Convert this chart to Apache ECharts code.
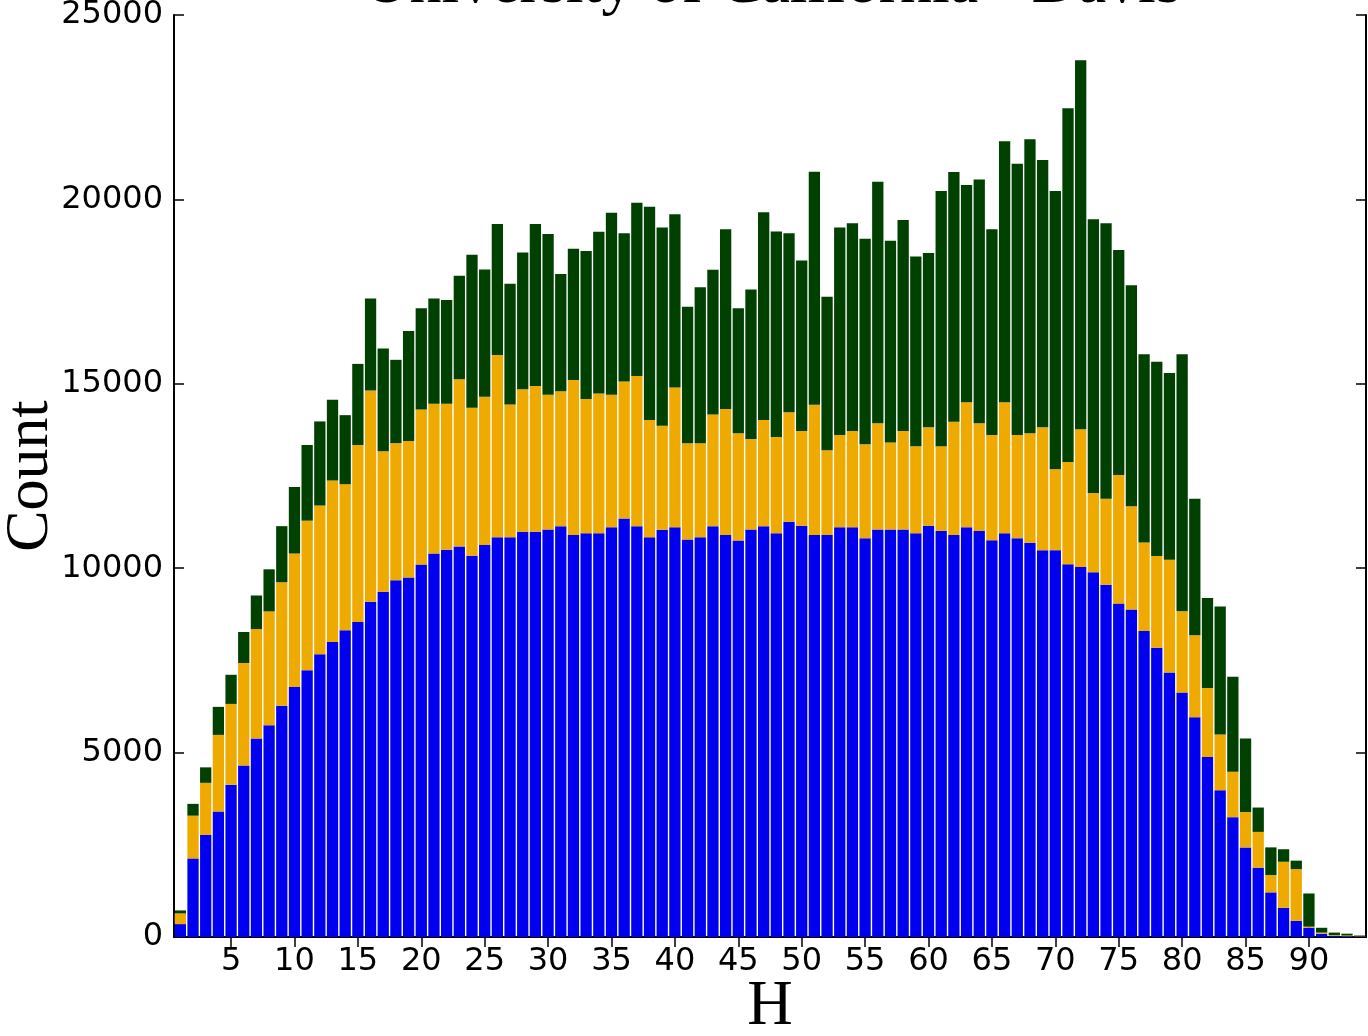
<!DOCTYPE html>
<html>
<head>
<meta charset="utf-8">
<script src="https://cdn.jsdelivr.net/npm/echarts@6/dist/echarts.min.js"></script>
<style>
html,body{margin:0;padding:0;background:#fff;}
#chart{width:1368px;height:1036px;}
</style>
</head>
<body>
<div id="chart"></div>
<script>
const titleText = 'University of California - Davis';
const xName = 'H';
const yName = 'Count';

const categories = [1,2,3,4,5,6,7,8,9,10,11,12,13,14,15,16,17,18,19,20,21,22,23,24,25,26,27,28,29,30,
  31,32,33,34,35,36,37,38,39,40,41,42,43,44,45,46,47,48,49,50,51,52,53,54,55,56,57,58,59,60,
  61,62,63,64,65,66,67,68,69,70,71,72,73,74,75,76,77,78,79,80,81,82,83,84,85,86,87,88,89,90,
  91,92,93,94];

const yTicks = [0, 5000, 10000, 15000, 20000, 25000];

// bottom segment (blue)
const blueValues = [350,2130,2770,3400,4130,4650,5380,5740,6270,6780,
  7230,7670,8000,8320,8540,9090,9360,9670,9750,10100,
  10400,10500,10590,10340,10630,10840,10840,10990,10990,11050,
  11140,10900,10950,10950,11110,11350,11140,10840,11040,11110,
  10780,10840,11140,10900,10750,11050,11140,10950,11260,11150,
  10900,10900,11110,11110,10810,11050,11050,11050,10950,11150,
  11010,10900,11110,11010,10760,10950,10810,10690,10490,10490,
  10110,10030,9890,9550,9040,8880,8300,7840,7170,6630,
  5960,4880,3980,3250,2430,1880,1210,790,440,250,
  90,30,20,10];

// middle segment (orange)
const orangeValues = [290,1160,1410,2080,2190,2780,2970,3090,3350,3620,
  4060,4030,4380,3960,4800,5730,3810,3720,3700,4200,
  4060,3960,4530,4010,4020,4940,3600,3860,3950,3650,
  3660,4200,3640,3790,3590,3710,4070,3180,2820,3790,
  2610,2550,3030,3420,2910,2450,2880,2610,2970,2570,
  3530,2300,2500,2610,2550,2880,2360,2670,2360,2670,
  2300,3070,3390,2920,2850,3550,2800,2970,3330,2190,
  2770,3740,2150,2330,3490,2800,2400,2490,3060,2200,
  2220,1870,1510,1230,960,970,470,1250,1400,30,
  30,20,20,10];

// top segment (dark green)
const greenValues = [80,320,420,760,790,840,910,1140,1520,1800,
  2050,2280,2190,1870,2200,2490,2790,2260,2980,2750,
  2850,2810,2810,4150,3450,3550,3270,3710,4390,4360,
  3180,3560,4010,4380,4940,4020,4700,5780,5380,4700,
  3700,4230,3920,4870,3390,4060,5630,5570,4850,4620,
  6320,4160,5630,5630,5570,6550,5470,5720,5140,4730,
  6920,6770,5890,6610,5580,7080,7360,7970,7250,7550,
  9590,10000,7420,7470,6100,5990,5100,5270,5060,6970,
  3700,2440,3470,2580,1990,660,750,340,230,900,
  130,70,50,20];

const labelFont = 'DejaVu Sans';
const serifFont = 'Liberation Serif';
const isTick = (idx, val) => Number(val) % 5 === 0;

const chart = echarts.init(document.getElementById('chart'));
const barStyle = (color) => ({
  type: 'bar',
  stack: 'total',
  barCategoryGap: '11%',
  itemStyle: { color: color },
  emphasis: { disabled: true },
  animation: false
});

chart.setOption({
  backgroundColor: '#ffffff',
  animation: false,
  title: {
    text: titleText,
    left: 772,
    textAlign: 'center',
    top: -47,
    padding: 0,
    textStyle: { fontFamily: serifFont, fontSize: 64, fontWeight: 'normal', color: '#000', lineHeight: 64 }
  },
  grid: { left: 174, right: 2, top: 15, bottom: 99, containLabel: false, outerBoundsMode: 'none' },
  xAxis: [
    {
      type: 'category',
      data: categories,
      position: 'bottom',
      name: xName,
      nameLocation: 'middle',
      nameGap: 39,
      nameMoveOverlap: false,
      nameTextStyle: { fontFamily: serifFont, fontSize: 63, color: '#000', lineHeight: 63 },
      axisLine: { show: true, lineStyle: { color: '#000', width: 2 } },
      axisTick: { show: true, inside: true, length: 10, alignWithLabel: true, interval: isTick, lineStyle: { color: '#000', width: 1.5 } },
      axisLabel: { show: true, interval: isTick, margin: 9, fontFamily: labelFont, fontSize: 32, color: '#000' },
      splitLine: { show: false }
    },
    {
      type: 'category',
      data: categories,
      position: 'top',
      axisLine: { show: true, lineStyle: { color: '#000', width: 2 } },
      axisTick: { show: true, inside: true, length: 10, alignWithLabel: true, interval: isTick, lineStyle: { color: '#000', width: 1.5 } },
      axisLabel: { show: false },
      splitLine: { show: false }
    }
  ],
  yAxis: [
    {
      type: 'value',
      min: yTicks[0],
      max: yTicks[yTicks.length - 1],
      interval: yTicks[1] - yTicks[0],
      position: 'left',
      name: yName,
      nameLocation: 'middle',
      nameGap: 112,
      nameMoveOverlap: false,
      nameRotate: 90,
      nameTextStyle: { fontFamily: serifFont, fontSize: 62, color: '#000', lineHeight: 62 },
      axisLine: { show: true, lineStyle: { color: '#000', width: 2 } },
      axisTick: { show: true, inside: true, length: 10, lineStyle: { color: '#000', width: 1.5 } },
      axisLabel: { show: true, margin: 11, fontFamily: labelFont, fontSize: 32, color: '#000', formatter: (v) => String(v) },
      splitLine: { show: false }
    },
    {
      type: 'value',
      min: yTicks[0],
      max: yTicks[yTicks.length - 1],
      interval: yTicks[1] - yTicks[0],
      position: 'right',
      axisLine: { show: true, lineStyle: { color: '#000', width: 2 } },
      axisTick: { show: true, inside: true, length: 10, lineStyle: { color: '#000', width: 1.5 } },
      axisLabel: { show: false },
      splitLine: { show: false }
    }
  ],
  series: [
    Object.assign(barStyle('#0000ee'), { name: 'blue', data: blueValues }),
    Object.assign(barStyle('#eeaa00'), { name: 'orange', data: orangeValues }),
    Object.assign(barStyle('#004000'), { name: 'green', data: greenValues })
  ]
});
</script>
</body>
</html>
